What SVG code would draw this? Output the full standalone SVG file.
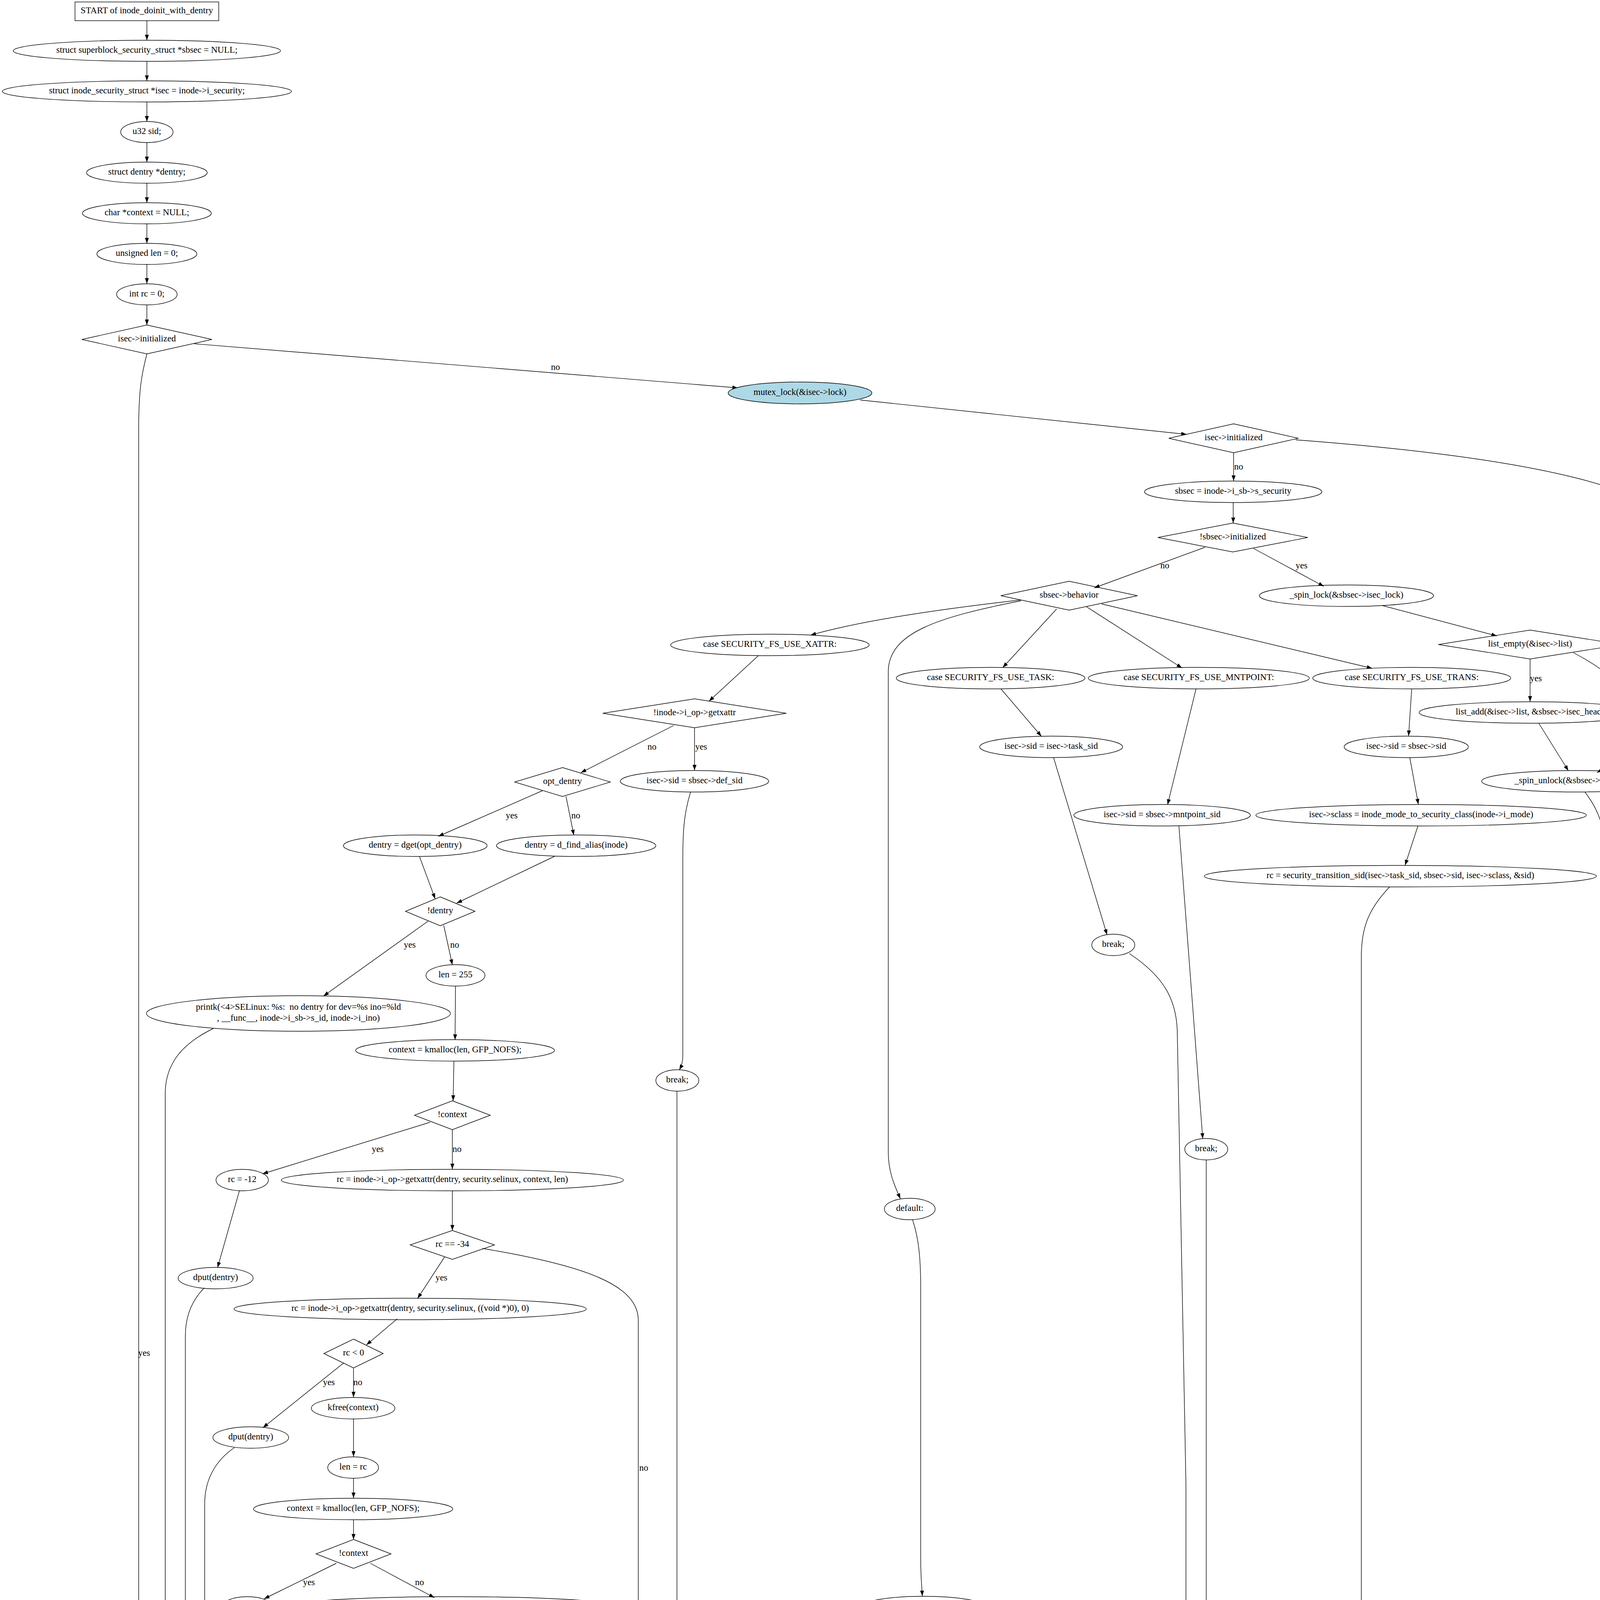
<svg xmlns="http://www.w3.org/2000/svg" width="4349" height="6211" viewBox="0 0 4349 6211">
<defs>
<style>
text{font-family:"Liberation Serif","Times New Roman",serif;font-size:23px;text-anchor:middle;white-space:pre;fill:#000}
.s{fill:none;stroke:#000;stroke-width:1.4}
.c path{fill:none;stroke:#000;stroke-width:1.4;marker-end:url(#a)}
</style>
<marker id="a" markerUnits="userSpaceOnUse" markerWidth="16" markerHeight="12" refX="14" refY="5" orient="auto"><path d="M0,0 L14,5 L0,10 z" fill="#000"/></marker>
</defs>
<rect width="4349" height="6211" fill="#fff"/>
<g class="c" id="connectors">
<path d="M376,53 L376,103"/>
<path d="M376,157 L376,207"/>
<path d="M376,261 L376,311"/>
<path d="M376,365 L376,415"/>
<path d="M376,469 L376,519"/>
<path d="M376,573 L376,623"/>
<path d="M376,677 L376,726"/>
<path d="M376,780.5 L376,832"/>
<path d="M497,880 L1889,993"/>
<path d="M376,906 C362,960 355,1000 355,1100 L355,5650 C355,5680 372,5695 399,5701"/>
<path d="M2202,1024 L3038,1112"/>
<path d="M3158,1159 L3158,1231"/>
<path d="M3317,1126 C3900,1170 4313,1250 4313,1400 L4313,5395 C4313,5450 3900,5470 3000,5486 L810,5512"/>
<path d="M3157,1286 L3157,1339"/>
<path d="M3085,1401 L2801,1505"/>
<path d="M3209,1404 L3389,1501"/>
<path d="M3538,1550 L3832,1628"/>
<path d="M3917,1687 L3917,1796"/>
<path d="M4028,1671 C4200,1760 4260,1880 4088,1978"/>
<path d="M3939,1851 L4015,1973"/>
<path d="M4057,2027 C4090,2070 4109,2110 4109,2200 L4109,5390 C4109,5440 3900,5458 3000,5476 L810,5510"/>
<path d="M2612,1536 C2400,1560 2200,1590 2075,1626"/>
<path d="M2614,1538 C2400,1580 2274,1620 2274,1720 L2274,2950 C2274,3000 2290,3035 2305,3069"/>
<path d="M2705,1559 L2567,1709"/>
<path d="M2781,1553 L3026,1710"/>
<path d="M2820,1546 L3513,1711"/>
<path d="M1942,1678 L1815,1795"/>
<path d="M1725,1857 L1487,1978"/>
<path d="M1778,1863 L1778,1972"/>
<path d="M1768,2027 C1752,2080 1748,2120 1748,2200 L1748,2700 C1748,2720 1744,2730 1739,2739"/>
<path d="M1733,2793 L1733,4180 C1733,4290 1800,4340 1880,4390 C1950,4440 1980,4490 1990,4530 L2067,4960 L2067,5300 C2067,5360 2150,5390 2310,5402"/>
<path d="M1389,2024 L1122,2141"/>
<path d="M1449,2039 L1469,2138"/>
<path d="M1074,2193 L1114,2301"/>
<path d="M1420,2192 L1169,2312"/>
<path d="M1096,2358 L828,2550"/>
<path d="M1136,2369 L1158,2470"/>
<path d="M1166,2525 L1165,2662"/>
<path d="M546,2633 C470,2670 423,2720 423,2800 L423,5420 C423,5470 520,5492 625,5503"/>
<path d="M1162,2717 L1160,2818"/>
<path d="M1101,2873 L672,3005"/>
<path d="M1158,2892 L1158,2993"/>
<path d="M613,3048 L557,3245"/>
<path d="M1158,3048 L1158,3150"/>
<path d="M523,3297 C490,3330 474.5,3370 474.5,3420 L474.5,5410 C474.5,5460 560,5485 634,5496"/>
<path d="M1138,3218 L1069,3324"/>
<path d="M1235,3196 C1500,3240 1634,3290 1634,3380 L1634,4110 C1634,4160 1500,4195 1407,4217"/>
<path d="M1017,3376 L938,3443"/>
<path d="M880,3489 L673,3655"/>
<path d="M905,3502 L905,3577"/>
<path d="M600,3706 C550,3740 524,3790 524,3850 L524,5410 C524,5460 590,5482 642,5490"/>
<path d="M905,3632 L905,3729"/>
<path d="M905,3784 L905,3835"/>
<path d="M905,3890 L905,3941"/>
<path d="M861,4002 L676,4093"/>
<path d="M948,4002 L1112,4090"/>
<path d="M634,4142 L640,4291"/>
<path d="M1199,4142 L1288,4205"/>
<path d="M625,4346 C590,4390 576.5,4420 576.5,4470 L576.5,5420 C576.5,5460 610,5485 653,5494"/>
<path d="M1323,4257 L1323,4372"/>
<path d="M1288,4428 L1113,4532"/>
<path d="M1358,4428 L1541,4530"/>
<path d="M1072,4594 L1073,4670"/>
<path d="M1122,4576 C1300,4630 1500,4660 1633,4690"/>
<path d="M1677,4581 C1780,4620 1860,4650 1900,4692"/>
<path d="M903,4758 C800,4790 740,4830 722,4880 L712,4946"/>
<path d="M1639,4739 C1590,4758 1560,4762 1500,4764 L900,4772 C860,4780 840,4810 824,4851"/>
<path d="M1907,4744 C1850,4780 1750,4790 1600,4782 L1110,4768 C1000,4770 900,4800 890,4900 L889,5034"/>
<path d="M1909,4751 L1684,4837"/>
<path d="M816,4905 L889,5035"/>
<path d="M712,5001 L712,5484"/>
<path d="M980,5081 L1374,5180"/>
<path d="M1518,5221 L1763,5289"/>
<path d="M1543,4925 L1667,5037"/>
<path d="M1722,5089 L1807,5176"/>
<path d="M1862,5226 L1935,5284"/>
<path d="M1858,5318 C2000,5350 2200,5385 2311,5400"/>
<path d="M2006,5320 C2100,5350 2200,5380 2312,5396"/>
<path d="M689,5539 L647,5590"/>
<path d="M574,5644 L462,5704"/>
<path d="M429,5747.5 L429,5800"/>
<path d="M501,5858 L797,5947"/>
<path d="M417,5872 C400,5920 400,5990 420,6020 C440,6040 465,6050 485,6057"/>
<path d="M793,6002 L589,6060"/>
<path d="M534,6105.5 L534,6155"/>
<path d="M2336,3122 C2352,3170 2357,3220 2357,3300 L2357,3990 C2357,4040 2360,4060 2361,4086"/>
<path d="M2370,4141 L2376,4196"/>
<path d="M2399,4268 L2439,4378"/>
<path d="M2608,4254 C2850,4290 2986,4340 2986,4420 L2986,5200 C2986,5240 2960,5265 2916,5290"/>
<path d="M2455,4433 L2467,4521"/>
<path d="M2472,4594 L2472,4684"/>
<path d="M2557,4571 C2800,4620 2935,4650 2935,4730 L2935,5230 C2935,5255 2920,5270 2900,5284"/>
<path d="M2478,4739 L2496,4852"/>
<path d="M2502,4908 L2502,5025"/>
<path d="M2529,5081 L2676,5176"/>
<path d="M2476,5082 C2320,5200 2180,5290 1980,5345 C1700,5410 1200,5460 812,5507"/>
<path d="M2754,5228 L2840,5284"/>
<path d="M2822,5320 C2700,5355 2600,5375 2547,5390"/>
<path d="M2353,5429 C2200,5455 2000,5470 1700,5485 L810,5510"/>
<path d="M2891,2441 C2980,2500 3014,2560 3014,2650 L3036,3800 L3036,5280 C3036,5330 2900,5370 2590,5404"/>
<path d="M3088,2969 L3088,5280 C3088,5340 2950,5375 2593,5408"/>
<path d="M3159,5330 C3100,5360 2900,5385 2594,5412"/>
<path d="M2562,1763 L2666,1885"/>
<path d="M2697,1939 L2834,2393"/>
<path d="M3062,1763 L2989,2060"/>
<path d="M3018,2114 L3079,2915"/>
<path d="M3614,1763 L3606,1884"/>
<path d="M3609,1939 L3631,2059"/>
<path d="M3630,2114 L3597,2215"/>
<path d="M3558,2270 C3500,2330 3485,2380 3485,2450 L3485,4880 C3485,4950 3450,5000 3405,5046"/>
<path d="M3370,5087 L3265,5174"/>
<path d="M3225,5227 L3205,5279"/>
<path d="M3383,5099 L3383,5395 C3383,5430 3200,5450 2950,5462 C2500,5480 1800,5494 810,5509"/>
</g>
<g id="edge-labels">
<text x="1422" y="947">no</text>
<text x="369" y="3471">yes</text>
<text x="3171" y="1202">no</text>
<text x="4330" y="3471">yes</text>
<text x="2982" y="1455">no</text>
<text x="3332" y="1455">yes</text>
<text x="3932" y="1744">yes</text>
<text x="4236" y="1832">no</text>
<text x="1669" y="1919">no</text>
<text x="1795" y="1919">yes</text>
<text x="1310" y="2095">yes</text>
<text x="1474" y="2095">no</text>
<text x="1049" y="2426">yes</text>
<text x="1164" y="2426">no</text>
<text x="967" y="2949">yes</text>
<text x="1170" y="2949">no</text>
<text x="1130" y="3278">yes</text>
<text x="1648" y="3765">no</text>
<text x="842" y="3546">yes</text>
<text x="916" y="3546">no</text>
<text x="791" y="4058">yes</text>
<text x="1074" y="4058">no</text>
<text x="1227" y="4487">yes</text>
<text x="1482" y="4487">no</text>
<text x="1087" y="4637">yes</text>
<text x="1439" y="4637">no</text>
<text x="1838" y="4802">yes</text>
<text x="929" y="4885">no</text>
<text x="2441" y="4324">yes</text>
<text x="2487" y="4637">yes</text>
<text x="2998" y="4802">no</text>
<text x="2947" y="4981">no</text>
<text x="2646" y="5144">no</text>
<text x="2169" y="5310">yes</text>
<text x="3325" y="5144">no</text>
<text x="3399" y="5310">yes</text>
<text x="723" y="5917">yes</text>
<text x="431" y="5981">no</text>
</g>
<g id="n_start"><rect class="s" x="192" y="5" width="368" height="48"/><text x="376" y="34">START of inode_doinit_with_dentry</text></g>
<g id="n1"><ellipse class="s" cx="376" cy="130" rx="342" ry="27"/><text x="376" y="135">struct superblock_security_struct *sbsec = NULL;</text></g>
<g id="n2"><ellipse class="s" cx="376" cy="234" rx="370" ry="27"/><text x="376" y="239">struct inode_security_struct *isec = inode-&gt;i_security;</text></g>
<g id="n3"><ellipse class="s" cx="376" cy="338" rx="67" ry="27"/><text x="376" y="343">u32 sid;</text></g>
<g id="n4"><ellipse class="s" cx="376" cy="442" rx="154.5" ry="27"/><text x="376" y="447">struct dentry *dentry;</text></g>
<g id="n5"><ellipse class="s" cx="376" cy="546" rx="165" ry="27"/><text x="376" y="551">char *context = NULL;</text></g>
<g id="n6"><ellipse class="s" cx="376" cy="650" rx="128" ry="27"/><text x="376" y="655">unsigned len = 0;</text></g>
<g id="n7"><ellipse class="s" cx="376" cy="753.5" rx="77.5" ry="27"/><text x="376" y="758.5">int rc = 0;</text></g>
<g id="n8"><polygon class="s" points="376,832 542.5,869 376,906 209.5,869"/><text x="376" y="874">isec-&gt;initialized</text></g>
<g id="n9"><ellipse cx="2048" cy="1006" rx="184" ry="28" fill="#add8e6" stroke="#000" stroke-width="1.4"/><text x="2048" y="1011">mutex_lock(&amp;isec-&gt;lock)</text></g>
<g id="n10"><polygon class="s" points="3158,1085 3324,1122 3158,1159 2992,1122"/><text x="3158" y="1127">isec-&gt;initialized</text></g>
<g id="n11"><ellipse class="s" cx="3157" cy="1259" rx="227" ry="27.5"/><text x="3157" y="1264">sbsec = inode-&gt;i_sb-&gt;s_security</text></g>
<g id="n12"><polygon class="s" points="3156,1339 3348,1376 3156,1413 2964,1376"/><text x="3156" y="1381">!sbsec-&gt;initialized</text></g>
<g id="n13"><polygon class="s" points="2737,1488 2912,1525 2737,1562 2562,1525"/><text x="2737" y="1530">sbsec-&gt;behavior</text></g>
<g id="n14"><ellipse class="s" cx="3447" cy="1525" rx="223" ry="27.5"/><text x="3447" y="1530">_spin_lock(&amp;sbsec-&gt;isec_lock)</text></g>
<g id="n15"><ellipse class="s" cx="1971" cy="1651" rx="254" ry="27.5"/><text x="1971" y="1656">case SECURITY_FS_USE_XATTR:</text></g>
<g id="n16"><ellipse class="s" cx="2536" cy="1736" rx="241.5" ry="27.5"/><text x="2536" y="1741">case SECURITY_FS_USE_TASK:</text></g>
<g id="n17"><ellipse class="s" cx="3069" cy="1736" rx="283" ry="27.5"/><text x="3069" y="1741">case SECURITY_FS_USE_MNTPOINT:</text></g>
<g id="n18"><ellipse class="s" cx="3614" cy="1736" rx="253.5" ry="27.5"/><text x="3614" y="1741">case SECURITY_FS_USE_TRANS:</text></g>
<g id="n19"><polygon class="s" points="3917,1613 4152,1650 3917,1687 3682,1650"/><text x="3917" y="1655">list_empty(&amp;isec-&gt;list)</text></g>
<g id="n20"><polygon class="s" points="1778,1789 2013,1826 1778,1863 1543,1826"/><text x="1778" y="1831">!inode-&gt;i_op-&gt;getxattr</text></g>
<g id="n21"><ellipse class="s" cx="3917" cy="1824" rx="284" ry="27.5"/><text x="3917" y="1829">list_add(&amp;isec-&gt;list, &amp;sbsec-&gt;isec_head)</text></g>
<g id="n22"><ellipse class="s" cx="2691" cy="1912" rx="183" ry="27.5"/><text x="2691" y="1917">isec-&gt;sid = isec-&gt;task_sid</text></g>
<g id="n23"><ellipse class="s" cx="3600" cy="1912" rx="159" ry="27.5"/><text x="3600" y="1917">isec-&gt;sid = sbsec-&gt;sid</text></g>
<g id="n24"><ellipse class="s" cx="4034" cy="2000" rx="241" ry="27.5"/><text x="4034" y="2005">_spin_unlock(&amp;sbsec-&gt;isec_lock)</text></g>
<g id="n25"><ellipse class="s" cx="1778" cy="2000" rx="190" ry="27.5"/><text x="1778" y="2005">isec-&gt;sid = sbsec-&gt;def_sid</text></g>
<g id="n26"><polygon class="s" points="1440,1965 1562.5,2002 1440,2039 1317.5,2002"/><text x="1440" y="2007">opt_dentry</text></g>
<g id="n27"><ellipse class="s" cx="2975" cy="2087" rx="226" ry="27.5"/><text x="2975" y="2092">isec-&gt;sid = sbsec-&gt;mntpoint_sid</text></g>
<g id="n28"><ellipse class="s" cx="3638" cy="2087" rx="423" ry="27.5"/><text x="3638" y="2092">isec-&gt;sclass = inode_mode_to_security_class(inode-&gt;i_mode)</text></g>
<g id="n29"><ellipse class="s" cx="1063" cy="2165" rx="184" ry="27.5"/><text x="1063" y="2170">dentry = dget(opt_dentry)</text></g>
<g id="n30"><ellipse class="s" cx="1475" cy="2165" rx="204" ry="27.5"/><text x="1475" y="2170">dentry = d_find_alias(inode)</text></g>
<g id="n31"><ellipse class="s" cx="3585" cy="2243" rx="502" ry="27.5"/><text x="3585" y="2248">rc = security_transition_sid(isec-&gt;task_sid, sbsec-&gt;sid, isec-&gt;sclass, &amp;sid)</text></g>
<g id="n32"><polygon class="s" points="1127,2296 1216,2333 1127,2370 1038,2333"/><text x="1127" y="2338">!dentry</text></g>
<g id="n33"><ellipse class="s" cx="2850" cy="2419" rx="55" ry="27.5"/><text x="2850" y="2424">break;</text></g>
<g id="n34"><ellipse class="s" cx="1166" cy="2497" rx="75.5" ry="27.5"/><text x="1166" y="2502">len = 255</text></g>
<g id="n35"><ellipse class="s" cx="764" cy="2594.5" rx="389" ry="45.5"/><text x="764" y="2584.5">printk(&lt;4&gt;SELinux: %s:  no dentry for dev=%s ino=%ld</text><text x="764" y="2612.5">, __func__, inode-&gt;i_sb-&gt;s_id, inode-&gt;i_ino)</text></g>
<g id="n36"><ellipse class="s" cx="1165" cy="2689" rx="254.5" ry="27.5"/><text x="1165" y="2694">context = kmalloc(len, GFP_NOFS);</text></g>
<g id="n37"><ellipse class="s" cx="1734" cy="2766" rx="55" ry="27.5"/><text x="1734" y="2771">break;</text></g>
<g id="n38"><polygon class="s" points="1158,2818 1255,2855 1158,2892 1061,2855"/><text x="1158" y="2860">!context</text></g>
<g id="n39"><ellipse class="s" cx="3088" cy="2942" rx="55" ry="27.5"/><text x="3088" y="2947">break;</text></g>
<g id="n40"><ellipse class="s" cx="620" cy="3021" rx="67" ry="27.5"/><text x="620" y="3026">rc = -12</text></g>
<g id="n41"><ellipse class="s" cx="1158" cy="3021" rx="438" ry="27.5"/><text x="1158" y="3026">rc = inode-&gt;i_op-&gt;getxattr(dentry, security.selinux, context, len)</text></g>
<g id="n42"><ellipse class="s" cx="2329" cy="3095" rx="65" ry="27.5"/><text x="2329" y="3100">default:</text></g>
<g id="n43"><polygon class="s" points="1158,3150 1266,3187 1158,3224 1050,3187"/><text x="1158" y="3192">rc == -34</text></g>
<g id="n44"><ellipse class="s" cx="552" cy="3272" rx="96" ry="27.5"/><text x="552" y="3277">dput(dentry)</text></g>
<g id="n45"><ellipse class="s" cx="1050" cy="3351" rx="451" ry="27.5"/><text x="1050" y="3356">rc = inode-&gt;i_op-&gt;getxattr(dentry, security.selinux, ((void *)0), 0)</text></g>
<g id="n46"><polygon class="s" points="905,3428 981,3465 905,3502 829,3465"/><text x="905" y="3470">rc &lt; 0</text></g>
<g id="n47"><ellipse class="s" cx="904" cy="3605" rx="107" ry="27.5"/><text x="904" y="3610">kfree(context)</text></g>
<g id="n48"><ellipse class="s" cx="642" cy="3680" rx="97" ry="27.5"/><text x="642" y="3685">dput(dentry)</text></g>
<g id="n49"><ellipse class="s" cx="904" cy="3757" rx="65" ry="27.5"/><text x="904" y="3762">len = rc</text></g>
<g id="n50"><ellipse class="s" cx="904" cy="3863" rx="255" ry="27.5"/><text x="904" y="3868">context = kmalloc(len, GFP_NOFS);</text></g>
<g id="n51"><polygon class="s" points="905,3941 1001,3978 905,4015 809,3978"/><text x="905" y="3983">!context</text></g>
<g id="n52"><ellipse class="s" cx="633" cy="4115" rx="67" ry="27.5"/><text x="633" y="4120">rc = -12</text></g>
<g id="n53"><ellipse class="s" cx="1161" cy="4115" rx="437" ry="27.5"/><text x="1161" y="4120">rc = inode-&gt;i_op-&gt;getxattr(dentry, security.selinux, context, len)</text></g>
<g id="n54"><ellipse class="s" cx="2364" cy="4114" rx="160" ry="27.5"/><text x="2364" y="4119">isec-&gt;sid = sbsec-&gt;sid</text></g>
<g id="n55"><ellipse class="s" cx="1322.5" cy="4230" rx="96" ry="27.5"/><text x="1322.5" y="4235">dput(dentry)</text></g>
<g id="n56"><polygon class="s" points="2385,4195.5 2999,4232 2385,4268.5 1771,4232"/><text x="2385" y="4237">sbsec-&gt;proc &amp;&amp; !(((inode-&gt;i_mode) &amp; 00170000) == 0120000)</text></g>
<g id="n57"><ellipse class="s" cx="642" cy="4319" rx="97" ry="27.5"/><text x="642" y="4324">dput(dentry)</text></g>
<g id="n58"><ellipse class="s" cx="2450" cy="4406" rx="301.5" ry="27.5"/><text x="2450" y="4411">struct proc_inode *proci = PROC_I(inode);</text></g>
<g id="n59"><polygon class="s" points="1323,4372 1399,4409 1323,4446 1247,4409"/><text x="1323" y="4414">rc &lt; 0</text></g>
<g id="n60"><polygon class="s" points="1072.5,4520 1175.5,4557 1072.5,4594 969.5,4557"/><text x="1072.5" y="4562">rc != -61</text></g>
<g id="n61"><ellipse class="s" cx="1586.5" cy="4557" rx="386.5" ry="27.5"/><text x="1586.5" y="4562">rc = security_context_to_sid_default(context, rc, &amp;sid ...</text></g>
<g id="n62"><polygon class="s" points="2472,4520 2597.5,4557 2472,4594 2346.5,4557"/><text x="2472" y="4562">proci-&gt;pde</text></g>
<g id="n63"><ellipse class="s" cx="1073" cy="4714.5" rx="459" ry="44.5"/><text x="1073" y="4704.5">printk(&lt;4&gt;SELinux: %s:  getxattr returned %d for dev=%s ino=%ld</text><text x="1073" y="4732.5">, __func__, -rc, inode-&gt;i_sb-&gt;s_id, inode-&gt;i_ino)</text></g>
<g id="n64"><ellipse class="s" cx="1709" cy="4712" rx="152" ry="27.5"/><text x="1709" y="4717">sid = sbsec-&gt;def_sid</text></g>
<g id="n65"><polygon class="s" points="1925,4677 1965,4714 1925,4751 1885,4714"/><text x="1925" y="4719">rc</text></g>
<g id="n66"><ellipse class="s" cx="2473" cy="4712" rx="424" ry="27.5"/><text x="2473" y="4717">isec-&gt;sclass = inode_mode_to_security_class(inode-&gt;i_mode)</text></g>
<g id="n67"><ellipse class="s" cx="1492" cy="4880" rx="537.5" ry="45.5"/><text x="1492" y="4870">printk(&lt;4&gt;SELinux: %s:  context_to_sid(%s) returned %d for dev=%s ino=%ld</text><text x="1492" y="4898">, __func__, context, -rc, inode-&gt;i_sb-&gt;s_id, inode-&gt;i_ino)</text></g>
<g id="n68"><ellipse class="s" cx="2502" cy="4880" rx="395" ry="27.5"/><text x="2502" y="4885">rc = selinux_proc_get_sid(proci-&gt;pde, isec-&gt;sclass, &amp;sid)</text></g>
<g id="n69"><ellipse class="s" cx="803.5" cy="4878" rx="52" ry="27.5"/><text x="803.5" y="4883">rc = 0</text></g>
<g id="n70"><ellipse class="s" cx="713" cy="4974" rx="107" ry="27.5"/><text x="713" y="4979">kfree(context)</text></g>
<g id="n71"><ellipse class="s" cx="904" cy="5062" rx="107" ry="27.5"/><text x="904" y="5067">kfree(context)</text></g>
<g id="n72"><ellipse class="s" cx="1696" cy="5062" rx="107" ry="27.5"/><text x="1696" y="5067">kfree(context)</text></g>
<g id="n73"><polygon class="s" points="2503,5025 2543,5062 2503,5099 2463,5062"/><text x="2503" y="5067">rc</text></g>
<g id="n74"><polygon class="s" points="3383,5025 3423,5062 3383,5099 3343,5062"/><text x="3383" y="5067">rc</text></g>
<g id="n75"><ellipse class="s" cx="1447" cy="5200" rx="109" ry="27.5"/><text x="1447" y="5205">isec-&gt;sid = sid</text></g>
<g id="n76"><ellipse class="s" cx="1832" cy="5200" rx="52" ry="27.5"/><text x="1832" y="5205">rc = 0</text></g>
<g id="n77"><ellipse class="s" cx="2716" cy="5200" rx="110" ry="27.5"/><text x="2716" y="5205">isec-&gt;sid = sid</text></g>
<g id="n78"><ellipse class="s" cx="3235" cy="5200" rx="110" ry="27.5"/><text x="3235" y="5205">isec-&gt;sid = sid</text></g>
<g id="n79"><ellipse class="s" cx="1808.5" cy="5304" rx="54" ry="27.5"/><text x="1808.5" y="5309">break;</text></g>
<g id="n80"><ellipse class="s" cx="1962" cy="5304" rx="53" ry="27.5"/><text x="1962" y="5309">break;</text></g>
<g id="n81"><ellipse class="s" cx="2872" cy="5305" rx="53" ry="27.5"/><text x="2872" y="5310">break;</text></g>
<g id="n82"><ellipse class="s" cx="3194" cy="5305" rx="55" ry="27.5"/><text x="3194" y="5310">break;</text></g>
<g id="n83"><ellipse class="s" cx="2451" cy="5410" rx="142" ry="27.5"/><text x="2451" y="5415">isec-&gt;initialized = 1</text></g>
<g id="n84"><ellipse class="s" cx="713" cy="5512" rx="94.5" ry="27.5"/><text x="713" y="5517">out_unlock:</text></g>
<g id="n85"><ellipse cx="622.5" cy="5617" rx="200" ry="27.5" fill="#ffff00" stroke="#000" stroke-width="1.4"/><text x="622.5" y="5622">mutex_unlock(&amp;isec-&gt;lock)</text></g>
<g id="n86"><ellipse class="s" cx="428.6" cy="5720" rx="42" ry="27.5"/><text x="428.6" y="5725">out:</text></g>
<g id="n87"><polygon class="s" points="429,5800 609.5,5837 429,5874 248.5,5837"/><text x="429" y="5842">isec-&gt;sclass == 6</text></g>
<g id="n88"><ellipse class="s" cx="882.6" cy="5974" rx="424.7" ry="27.5"/><text x="882.6" y="5979">isec-&gt;sclass = inode_mode_to_security_class(inode-&gt;i_mode)</text></g>
<g id="n89"><ellipse class="s" cx="533.6" cy="6078" rx="74.6" ry="27.5"/><text x="533.6" y="6083">return rc;</text></g>
<g id="n_end"><rect class="s" x="364.5" y="6155.5" width="341" height="49"/><text x="535" y="6185">END of inode_doinit_with_dentry</text></g>
</svg>
